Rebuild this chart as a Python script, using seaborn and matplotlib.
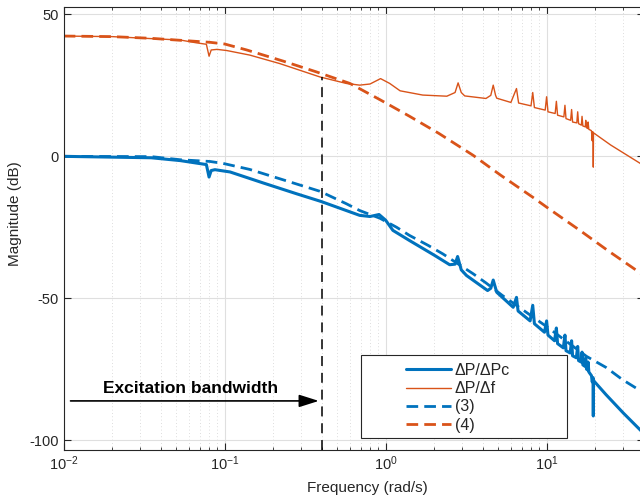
import numpy as np
import pandas as pd
import matplotlib
matplotlib.use("Agg")
import matplotlib.pyplot as plt
from matplotlib.patches import Rectangle
import seaborn as sns

# values (frequency in rad/s, magnitude in dB)
pc_freq = [0.01, 0.035, 0.053, 0.077, 0.08, 0.0825, 0.087, 0.108, 0.174, 0.28, 0.397,
           0.69, 0.8, 0.91, 1.0, 1.11, 1.41, 2.0, 2.5, 2.7, 2.8, 2.95, 3.18, 4.3, 4.5,
           4.66, 4.9, 6.2, 6.5, 6.65, 7.9, 8.2, 8.4, 9.7, 10.0, 10.2, 11.2, 11.5, 11.7,
           12.7, 13.0, 13.2, 14.0, 14.3, 14.5, 15.3, 15.6, 15.8, 16.4, 16.6, 16.8, 17.3,
           17.5, 17.7, 18.0, 18.1, 18.3, 19.0, 19.2, 19.45, 19.5, 19.55, 23.4, 30.0, 40.0]
pc_mag = [0.0, -0.5, -1.5, -2.9, -7.3, -5.0, -4.7, -5.5, -9.4, -13.2, -15.9,
          -20.8, -21.2, -20.5, -22.5, -26.1, -29.7, -34.8, -38.2, -38.0, -35.3, -40.0, -42.0, -47.3, -46.5,
          -43.6, -47.9, -53.2, -49.7, -54.5, -58.0, -52.5, -59.0, -62.0, -58.0, -63.0, -65.0, -60.5, -66.0,
          -67.5, -63.0, -68.5, -69.3, -65.0, -70.3, -71.0, -67.0, -72.0, -72.5, -69.0, -73.5, -74.0,
          -71.0, -75.0, -75.3, -72.5, -76.0, -77.3, -79.5, -78.0, -91.5, -79.0, -84.0, -90.5, -97.6]

pf_freq = [0.01, 0.02, 0.035, 0.053, 0.067, 0.077, 0.08, 0.0825, 0.0897, 0.103, 0.143,
           0.22, 0.39, 0.57, 0.69, 0.8, 0.93, 1.06, 1.23, 1.7, 2.4, 2.7, 2.82, 2.95, 3.1,
           4.2, 4.5, 4.66, 4.82, 4.9, 6.0, 6.5, 6.7, 8.0, 8.2, 8.4, 9.8, 10.0, 10.2,
           11.3, 11.5, 11.7, 12.8, 13.0, 13.2, 14.1, 14.3, 14.5, 15.4, 15.6, 15.8,
           16.45, 16.6, 16.8, 17.4, 17.5, 17.7, 18.0, 18.1, 18.3, 18.8, 19.0, 19.2,
           19.3, 19.45, 19.5, 19.55, 20.0, 25.0, 40.0]
pf_mag = [42.4, 42.2, 41.5, 41.0, 40.0, 39.5, 35.3, 37.5, 37.7, 37.3, 35.7,
          32.7, 28.0, 25.7, 25.1, 25.5, 27.4, 25.7, 23.1, 21.6, 21.2, 22.5, 25.9, 22.5, 21.3,
          20.4, 21.5, 25.1, 21.5, 20.5, 19.0, 23.9, 18.8, 17.8, 22.5, 17.2, 16.3, 21.0, 15.7,
          15.1, 19.4, 14.5, 13.9, 18.0, 13.3, 12.7, 16.5, 12.1, 11.8, 15.7, 11.5,
          11.0, 14.1, 10.7, 10.4, 12.7, 10.1, 9.8, 12.1, 9.5, 9.2, 9.0, 5.5,
          8.7, 8.5, -3.8, 8.3, 7.9, 4.0, -3.2]

eq3_freq = [0.01, 0.035, 0.053, 0.081, 0.098, 0.143, 0.22, 0.39, 0.57, 0.69, 0.92,
            1.17, 1.41, 1.84, 2.27, 3.5, 4.2, 5.3, 10.0, 17.7, 23.4, 29.6, 40.0]
eq3_mag = [0.0, -0.1, -1.2, -1.8, -2.5, -4.6, -7.9, -12.3, -16.7, -19.1, -21.8,
           -25.0, -27.9, -31.4, -34.4, -41.4, -44.6, -49.0, -60.0, -70.5, -74.4, -78.7, -83.3]

eq4_freq = [0.01, 0.02, 0.035, 0.081, 0.1, 0.137, 0.23, 0.37, 0.6, 0.92, 1.41, 2.14,
            3.5, 5.2, 8.2, 10.0, 16.1, 24.0, 40.0]
eq4_mag = [42.4, 42.2, 41.6, 40.2, 39.6, 37.5, 33.6, 29.8, 25.7, 20.0, 14.1, 8.1,
           0.35, -6.7, -14.4, -17.9, -26.1, -33.2, -41.9]

bandwidth = 0.4
bandwidth_top = 27.9

blue = "#0072BD"
orange = "#D95319"

sns.set_style("ticks")
plt.rcParams["font.family"] = ["Liberation Sans", "DejaVu Sans"]
plt.rcParams["mathtext.fontset"] = "custom"
plt.rcParams["mathtext.rm"] = "Liberation Sans"
plt.rcParams["mathtext.it"] = "Liberation Sans:italic"
plt.rcParams["axes.unicode_minus"] = False

fig = plt.figure(figsize=(6.4, 5.01), dpi=100)
ax = fig.add_axes([0.0995, 0.1018, 0.906, 0.884])
ax.set_xscale("log")

series = [
    ("ΔP/ΔPc", pc_freq, pc_mag, blue, 2.2, "-"),
    ("ΔP/Δf", pf_freq, pf_mag, orange, 1.0, "-"),
    ("(3)", eq3_freq, eq3_mag, blue, 2.0, "--"),
    ("(4)", eq4_freq, eq4_mag, orange, 2.0, "--"),
]
handles = []
for name, f, m, col, lw, ls in series:
    df = pd.DataFrame({"freq": f, "mag": m})
    sns.lineplot(data=df, x="freq", y="mag", ax=ax, color=col, linewidth=lw,
                 linestyle=ls, estimator=None, sort=False)
    line = ax.lines[-1]
    if ls == "--":
        line.set_dashes((4.2, 2.2))
    handles.append(line)

# excitation bandwidth marker
ax.plot([bandwidth, bandwidth], [-103.5, bandwidth_top], color="black", lw=1.1,
        dashes=(6.5, 4.5))
ax.annotate("", xy=(bandwidth, -86.2), xytext=(0.0106, -86.2),
            arrowprops=dict(arrowstyle="-|>,head_length=1.2,head_width=0.38",
                            color="black", lw=1.2, mutation_scale=10))
ax.text(0.0615, -82, "Excitation bandwidth", ha="center", va="center",
        fontsize=12.5, fontweight="bold", color="black")

ax.set_xlim(0.01, 40)
ax.set_ylim(-103.5, 52.6)
ax.set_yticks([-100, -50, 0, 50])
ax.tick_params(which="both", direction="in", top=True, right=True,
               colors="#262626", labelsize=10.5)
ax.tick_params(which="major", length=5, width=0.8)
ax.tick_params(which="minor", length=2.5, width=0.6)
ax.grid(True, which="major", color="#dfdfdf", lw=0.8, ls="-")
ax.grid(True, which="minor", axis="x", color="#d2d2d2", lw=0.6, ls=(0, (1, 3)))
ax.set_axisbelow(True)
for sp in ax.spines.values():
    sp.set_color("#262626")
    sp.set_linewidth(0.8)

ax.set_xlabel("Frequency (rad/s)", fontsize=11, color="#262626")
ax.set_ylabel("Magnitude (dB)", fontsize=11, color="#262626")
ax.xaxis.set_label_coords(0.523, -0.07)
ax.yaxis.set_label_coords(-0.072, 0.533)

# legend box in MATLAB style
ax.add_patch(Rectangle((0.5126, 0.027), 0.355, 0.187, transform=ax.transAxes,
                       facecolor="white", edgecolor="#262626", lw=0.8, zorder=5))
leg = ax.legend(handles, [s[0] for s in series], loc="center left",
                bbox_to_anchor=(0.591, 0.118), frameon=False, fontsize=11.5,
                handlelength=2.8, handletextpad=0.22, labelspacing=0.2,
                borderpad=0, borderaxespad=0)
leg.set_zorder(6)

fig.savefig("out.png", dpi=100)
